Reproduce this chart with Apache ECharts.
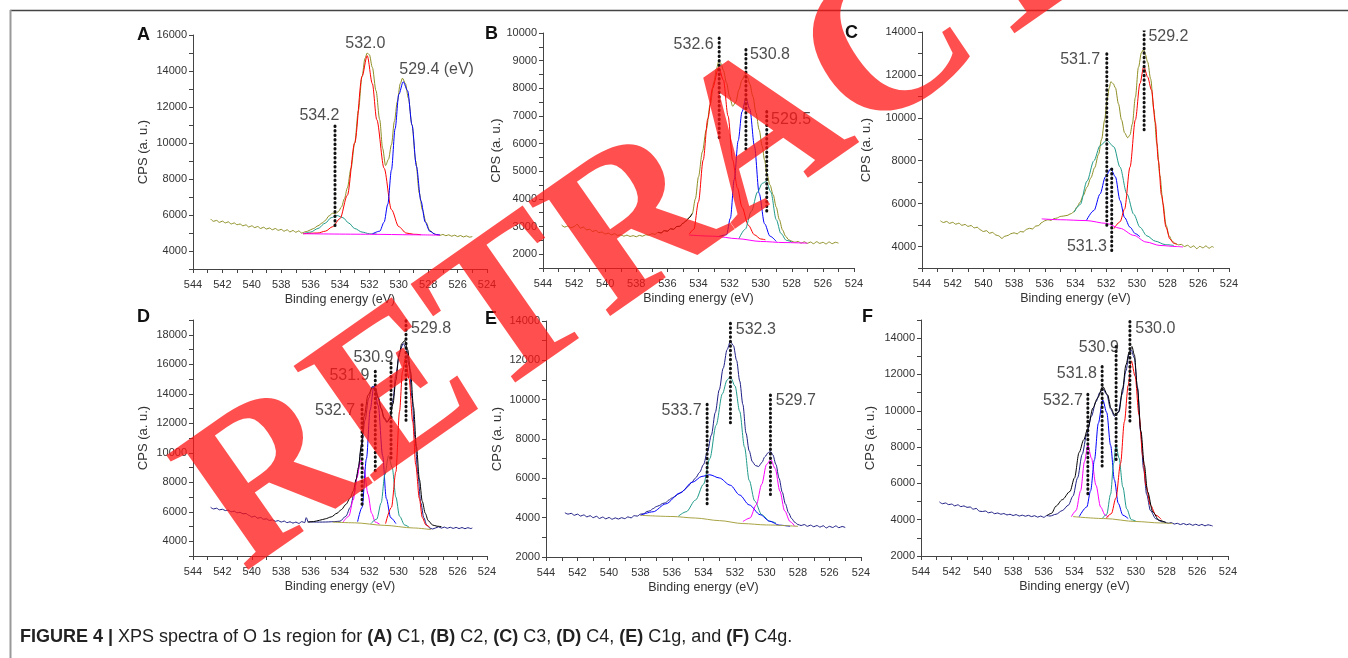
<!DOCTYPE html>
<html>
<head>
<meta charset="utf-8">
<title>Figure 4 - XPS O 1s</title>
<script src="https://cdn.jsdelivr.net/npm/echarts@6/dist/echarts.min.js"></script>
<style>
  html, body { margin: 0; padding: 0; background: #fff; }
  #chart { width: 1348px; height: 658px; }
</style>
</head>
<body>
<div id="chart"></div>
<script>
// all curves are [binding energy (eV), CPS]

// ---- A (C1) ----
const rawA = [[542.8,5780],[542.6,5650],[542.4,5700],[542.2,5590],[542,5660],[541.8,5560],[541.6,5620],[541.4,5500],[541.2,5560],[541,5460],[540.8,5500],[540.6,5400],[540.4,5450],[540.2,5330],[540,5400],[539.8,5300],[539.6,5360],[539.4,5250],[539.2,5320],[539,5220],[538.8,5280],[538.6,5180],[538.4,5250],[538.2,5150],[538,5200],[537.8,5100],[537.6,5180],[537.4,5060],[537.2,5140],[537,5040],[536.8,5120],[536.6,4990],[536.4,5060],[536.2,5100],[536,5180],[535.8,5250],[535.5,5400],[535.2,5560],[535,5700],[534.75,5950],[534.5,6100],[534.3,6080],[534.1,6200],[533.9,6450],[533.7,6900],[533.5,7500],[533.25,8600],[533,10000],[532.75,11800],[532.5,13700],[532.3,14700],[532.15,15000],[532,14900],[531.8,14200],[531.55,12900],[531.3,11300],[531.1,9700],[530.9,8750],[530.7,9100],[530.5,9900],[530.3,11200],[530.1,12300],[529.9,13300],[529.75,13600],[529.55,13300],[529.35,12500],[529.1,11000],[528.85,9000],[528.6,7200],[528.4,6300],[528.15,5600],[527.9,5150],[527.6,4960],[527.4,4900],[527.2,4870],[527,4920],[526.8,4850],[526.6,4900],[526.4,4820],[526.2,4880],[526,4800],[525.8,4860],[525.6,4780],[525.4,4840],[525.2,4770],[525,4800]];
const tealA = [[536.5,4960],[536,5050],[535.5,5250],[535,5550],[534.6,5850],[534.2,5970],[533.8,5850],[533.4,5550],[533,5250],[532.5,5050],[532,4960],[531.5,4940]];
const redA = [[536.5,4960],[535.5,5000],[535,5100],[534.5,5350],[534,5800],[533.5,7100],[533,10000],[532.5,13700],[532.15,14850],[531.8,13300],[531.5,11300],[531,8600],[530.5,6300],[530,5350],[529.5,5000],[529,4930],[528.5,4910]];
const blueA = [[531.8,4950],[531.3,5100],[531,5600],[530.75,6600],[530.5,8500],[530.25,10800],[530,12700],[529.7,13400],[529.4,12900],[529.1,11000],[528.8,8700],[528.5,6800],[528.2,5600],[527.9,5100],[527.5,4920],[527.2,4900]];
const baseA = [[536.5,4960],[532,4930],[529,4900],[527.2,4880]];
const marksA = [[534.34,10940,5330]];            // [eV, top, bottom]
const labelsA = [[536.76,11500,'534.2'],[533.64,15540,'532.0'],[529.97,14100,'529.4 (eV)']];

// ---- B (C2) ----
const rawB = [[542.8,3050],[542.6,2980],[542.4,3020],[542.2,2950],[542,3000],[541.8,3080],[541.6,2940],[541.4,2980],[541.2,2880],[541,2900],[540.8,2820],[540.6,2860],[540.4,2780],[540.2,2800],[540,2730],[539.8,2760],[539.6,2700],[539.4,2740],[539.2,2680],[539,2700],[538.8,2650],[538.6,2690],[538.4,2640],[538.2,2670],[538,2630],[537.8,2680],[537.6,2650],[537.4,2700],[537.2,2690],[537,2740],[536.8,2720],[536.6,2790],[536.4,2770],[536.2,2850],[536,2830],[535.8,2920],[535.6,2900],[535.4,3000],[535.2,3010],[535,3120],[534.8,3200],[534.6,3320],[534.4,3470],[534.2,4000],[534,4800],[533.75,5700],[533.5,6500],[533.25,7400],[533,8250],[532.85,8700],[532.7,8970],[532.55,8900],[532.4,8650],[532.2,8200],[532,7700],[531.8,7350],[531.6,7500],[531.4,7950],[531.2,8300],[531,8500],[530.85,8400],[530.7,8150],[530.5,7700],[530.3,7100],[530.1,6500],[529.9,5900],[529.75,5400],[529.6,4900],[529.4,4500],[529.2,4150],[529,3700],[528.8,3250],[528.6,2880],[528.4,2650],[528.2,2520],[528,2470],[527.8,2430],[527.6,2460],[527.4,2400],[527.2,2450],[527,2390],[526.8,2440],[526.6,2380],[526.4,2450],[526.2,2390],[526,2430],[525.8,2370],[525.6,2440],[525.4,2380],[525.2,2430],[525,2400]];
const blackB = [[536.6,2790],[536.4,2770],[536.2,2850],[536,2830],[535.8,2920],[535.6,2900],[535.4,3000],[535.2,3010],[535,3120],[534.8,3200],[534.6,3320],[534.4,3470]];
const redB = [[534.6,2720],[534.3,2900],[534,3900],[533.7,5400],[533.4,6900],[533.1,8000],[532.7,8750],[532.4,8300],[532.1,7000],[531.8,5400],[531.5,4400],[531.2,3700],[530.8,3050],[530.4,2700],[530,2550],[529.7,2520]];
const blueB = [[532.7,2640],[532.2,2700],[531.95,3300],[531.7,4700],[531.45,6100],[531.2,7150],[530.95,7640],[530.7,7250],[530.4,5900],[530.1,4200],[529.75,3100],[529.4,2650],[529,2460]];
const tealB = [[531.4,2560],[531,2900],[530.6,3550],[530.2,4250],[529.9,4560],[529.65,4630],[529.35,4250],[529,3250],[528.7,2750],[528.35,2500],[528,2440]];
const baseB = [[534.6,2690],[533,2650],[531.5,2560],[530,2460],[528.5,2420],[527,2400]];
const marksB = [[532.67,9820,6130],[530.95,9400,5770],[529.61,7160,3470]];
const labelsB = [[535.6,9580,'532.6'],[530.69,9210,'530.8'],[529.33,6880,'529.5']];

// ---- C (C3) ----
const rawC = [[542.8,5200],[542.6,5120],[542.4,5170],[542.2,5080],[542,5130],[541.8,5040],[541.6,5090],[541.4,4990],[541.2,5030],[541,4940],[540.8,4980],[540.6,4870],[540.4,4900],[540.2,4780],[540,4700],[539.8,4740],[539.6,4620],[539.4,4660],[539.2,4540],[539,4500],[538.8,4380],[538.6,4480],[538.4,4520],[538.2,4600],[538,4640],[537.8,4590],[537.6,4700],[537.4,4680],[537.2,4800],[537,4850],[536.8,4820],[536.6,4950],[536.4,4980],[536.2,5120],[536,5200],[535.8,5250],[535.6,5220],[535.4,5300],[535.2,5330],[535,5400],[534.8,5420],[534.55,5450],[534.3,5530],[534.1,5620],[533.9,5850],[533.7,6070],[533.5,6380],[533.25,6770],[533,7200],[532.75,7680],[532.5,8300],[532.3,9000],[532.1,9900],[531.95,10800],[531.8,11400],[531.7,11680],[531.55,11600],[531.4,11400],[531.2,10650],[531,9900],[530.8,9300],[530.6,9070],[530.45,9200],[530.3,9700],[530.1,10950],[529.9,12350],[529.7,13050],[529.57,13180],[529.45,12950],[529.3,12600],[529.1,11800],[528.9,10400],[528.7,8800],[528.5,7300],[528.3,6000],[528.1,5000],[527.9,4500],[527.7,4250],[527.5,4150],[527.3,4080],[527.1,4100],[526.9,4000],[526.7,4060],[526.5,3960],[526.3,4030],[526.1,3900],[525.9,4010],[525.7,3940],[525.5,4030],[525.3,3920],[525.1,4000],[525,3960]];
const tealC = [[534.1,5600],[533.7,5950],[533.25,7050],[532.8,8000],[532.4,8700],[531.96,8950],[531.5,8650],[531.1,7700],[530.65,6450],[530.2,5500],[529.8,4900],[529.35,4500],[528.8,4250],[528.15,4090],[527.6,4050]];
const blueC = [[533.3,5200],[532.8,5680],[532.4,6450],[532.05,7250],[531.7,7620],[531.4,7250],[531.1,6150],[530.8,5350],[530.45,4900],[530.1,4600],[529.8,4450]];
const redC = [[531.5,4830],[531.1,5150],[530.8,5750],[530.45,7700],[530.1,9900],[529.8,11600],[529.55,12400],[529.3,11900],[529.05,11300],[528.8,9800],[528.6,8000],[528.4,6400],[528.1,4900],[527.85,4350],[527.6,4150],[527.4,4100]];
const baseC = [[536.2,5290],[535,5250],[533.3,5210],[532,5080],[531.1,4850],[530.2,4520],[529.4,4210],[528.5,4050],[527.4,4000],[527,3980]];
const marksC = [[531.96,12990,4900],[529.53,14080,9330],[531.64,7620,3740]];
const labelsC = [[535.0,12710,'531.7'],[529.25,13770,'529.2'],[534.56,4000,'531.3']];

// ---- D (C4) ----
const rawD = [[542.8,6300],[542.6,6190],[542.4,6240],[542.2,6130],[542,6170],[541.8,6080],[541.6,6110],[541.4,6000],[541.2,6040],[541,5930],[540.8,5960],[540.6,5860],[540.4,5880],[540.2,5760],[540,5640],[539.8,5700],[539.6,5560],[539.4,5610],[539.2,5490],[539,5520],[538.8,5410],[538.6,5450],[538.4,5350],[538.2,5400],[538,5300],[537.8,5370],[537.6,5260],[537.4,5320],[537.2,5230],[537,5300],[536.8,5210],[536.6,5330],[536.4,5260],[536.3,5600],[536.15,5300],[536,5310],[535.6,5300],[535.2,5300],[534.8,5310],[534.4,5330],[534,5360],[533.6,5700],[533.3,6300],[533.05,7200],[532.8,8600],[532.55,10300],[532.3,12200],[532.05,13700],[531.8,14500],[531.6,14400],[531.4,13800],[531.2,13000],[531,12300],[530.8,12050],[530.6,12400],[530.4,13600],[530.2,15300],[529.95,16800],[529.7,17400],[529.5,17100],[529.3,15900],[529.1,13700],[528.9,11000],[528.7,8500],[528.5,6600],[528.3,5600],[528.1,5100],[527.9,4900],[527.7,4830],[527.5,4900],[527.3,4980],[527.1,4890],[526.9,4960],[526.7,4880],[526.5,4950],[526.3,4870],[526.1,4940],[525.9,4860],[525.7,4930],[525.5,4850],[525.3,4920],[525.1,4860],[525,4900]];
const blackD = [[536.2,5300],[535.8,5330],[535.4,5420],[535,5520],[534.6,5650],[534.2,5900],[533.9,6150],[533.6,6500],[533.3,6950],[533.1,7400],[532.9,8200],[532.75,9000],[532.55,10500],[532.35,12500],[532.1,13900],[531.8,14400],[531.6,14250],[531.4,13700],[531.2,13000],[531,12400],[530.8,12100],[530.6,12300],[530.4,13300],[530.2,14900],[530,16500],[529.8,17400],[529.6,17600],[529.4,17000],[529.2,15500],[529,13100],[528.8,10400],[528.6,8200],[528.4,6700],[528.2,5900],[528,5400],[527.7,5100],[527.4,5020],[527.1,4990]];
const magentaD = [[533.8,5280],[533.4,5700],[533.1,6800],[532.85,8300],[532.6,9500],[532.35,8800],[532.1,7200],[531.85,5900],[531.6,5300],[531.3,5150]];
const blueD = [[532.8,5330],[532.5,6300],[532.2,9600],[531.95,12900],[531.7,14500],[531.4,13200],[531.1,9800],[530.85,6900],[530.55,5600],[530.2,5200]];
const tealD = [[531.9,5200],[531.5,5500],[531.2,6600],[530.95,8500],[530.7,9800],[530.45,9000],[530.2,7000],[529.95,5700],[529.6,5100],[529.3,4950]];
const redD = [[530.9,5200],[530.5,6300],[530.2,8700],[529.95,12800],[529.75,15500],[529.55,16400],[529.3,15000],[529.05,12100],[528.85,9200],[528.6,6900],[528.4,5600],[528.15,5100],[527.9,4950]];
const baseD = [[534.5,5300],[533,5250],[531,5080],[529,4900],[527.8,4790]];
const marksD = [[529.51,18950,12020],[530.53,16080,9420],[531.6,15520,8750],[532.5,13260,6490]];
const labelsD = [[529.17,18400,'529.8'],[533.09,16470,'530.9'],[534.72,15250,'531.9'],[535.7,12850,'532.7']];

// ---- E (C1g) ----
const rawE = [[542.8,4250],[542.6,4180],[542.4,4220],[542.2,4120],[542,4180],[541.8,4080],[541.6,4140],[541.4,4040],[541.2,4100],[541,4000],[540.8,4070],[540.6,3960],[540.4,4030],[540.2,3940],[540,4010],[539.8,3920],[539.6,3990],[539.4,3930],[539.2,4000],[539,3950],[538.8,4040],[538.6,3990],[538.4,4100],[538.2,4080],[538,4180],[537.8,4200],[537.6,4310],[537.4,4350],[537.2,4460],[537,4560],[536.8,4620],[536.6,4720],[536.4,4760],[536.2,4900],[536,5000],[535.8,5080],[535.6,5200],[535.4,5300],[535.2,5420],[535,5580],[534.75,5800],[534.5,6020],[534.25,6300],[534,6700],[533.75,7350],[533.5,8200],[533.25,9350],[533,10500],[532.75,11600],[532.5,12550],[532.3,12950],[532.1,12750],[531.9,12000],[531.7,10950],[531.5,9750],[531.3,8300],[531.1,7400],[530.9,6850],[530.7,6650],[530.5,6600],[530.3,6800],[530.1,7100],[529.9,7300],[529.75,7380],[529.6,7200],[529.4,6700],[529.2,6000],[529,5300],[528.8,4700],[528.6,4250],[528.4,3950],[528.2,3760],[528,3650],[527.8,3600],[527.6,3650],[527.4,3560],[527.2,3620],[527,3540],[526.8,3600],[526.6,3520],[526.4,3590],[526.2,3480],[526,3560],[525.8,3500],[525.6,3580],[525.4,3490],[525.2,3550],[525,3500]];
const tealE = [[535.6,4070],[535.1,4300],[534.5,4900],[534,5700],[533.6,7000],[533.2,8700],[532.8,10300],[532.5,11000],[532.3,11170],[532,10700],[531.7,9400],[531.4,7600],[531.1,5900],[530.75,4850],[530.3,4150],[529.8,3820],[529.4,3730]];
const blueE = [[538,4120],[537.2,4300],[536.4,4700],[535.5,5250],[534.7,5800],[534.1,6100],[533.6,6180],[533,6020],[532.3,5650],[531.7,5150],[531.1,4650],[530.4,4150],[529.8,3820],[529.2,3620],[528.5,3560]];
const magentaE = [[531.5,3800],[531.05,3980],[530.65,4650],[530.3,5700],[530,6700],[529.73,6950],[529.45,6500],[529.15,5350],[528.85,4350],[528.5,3800],[528.2,3560]];
const baseE = [[538,4120],[536,4060],[534.5,3980],[533,3850],[531.5,3700],[530,3630],[528,3560]];
const marksE = [[532.29,13880,8810],[529.75,10240,5030],[533.77,9770,4660]];
const labelsE = [[531.95,13540,'532.3'],[529.41,9940,'529.7'],[536.66,9430,'533.7']];

// ---- F (C4g) ----
const rawF = [[542.8,4980],[542.6,4880],[542.4,4920],[542.2,4830],[542,4860],[541.8,4760],[541.6,4820],[541.4,4720],[541.2,4760],[541,4680],[540.8,4700],[540.6,4580],[540.4,4620],[540.2,4470],[540,4450],[539.8,4480],[539.6,4380],[539.4,4420],[539.2,4330],[539,4370],[538.8,4300],[538.6,4340],[538.4,4260],[538.2,4300],[538,4230],[537.8,4280],[537.6,4200],[537.4,4250],[537.2,4190],[537,4240],[536.8,4170],[536.6,4220],[536.4,4140],[536.2,4200],[536,4130],[535.8,4230],[535.6,4200],[535.2,4300],[534.8,4500],[534.4,4800],[534.1,5300],[533.8,6300],[533.5,7600],[533.2,8700],[532.9,9700],[532.6,10500],[532.35,11000],[532.15,11200],[531.9,10900],[531.65,10100],[531.4,9700],[531.15,9900],[530.9,10900],[530.65,12200],[530.45,13100],[530.3,13350],[530.1,12900],[529.9,11300],[529.7,8900],[529.5,6800],[529.3,5400],[529.05,4500],[528.7,4050],[528.3,3880],[528.1,3870],[527.9,3800],[527.7,3840],[527.5,3760],[527.3,3800],[527.1,3730],[526.9,3790],[526.7,3720],[526.5,3770],[526.3,3690],[526.1,3750],[525.9,3680],[525.7,3740],[525.5,3660],[525.3,3720],[525.1,3680],[525,3650]];
const blackF = [[535.8,4230],[535.5,4350],[535.2,4750],[534.8,5100],[534.3,5550],[534,6300],[533.7,7700],[533.4,8400],[533.13,9030],[532.8,10150],[532.5,10700],[532.16,11330],[531.84,10870],[531.62,10140],[531.4,9770],[531.1,9950],[530.86,11240],[530.65,12530],[530.43,13260],[530.26,13540],[530.1,13080],[529.9,11240],[529.67,8850],[529.45,7010],[529.24,5540],[528.9,4430],[528.5,3970],[528.05,3840]];
const magentaF = [[534.2,4170],[533.9,4500],[533.6,5600],[533.35,7200],[533.13,8100],[532.9,7400],[532.6,5900],[532.3,4700],[532,4250],[531.8,4150]];
const blueF = [[533.7,4160],[533.2,4700],[532.95,5600],[532.7,7300],[532.45,9300],[532.16,10600],[531.9,9900],[531.65,8100],[531.4,6200],[531.15,4900],[530.85,4250],[530.5,4060]];
const tealF = [[532.2,4050],[531.9,4300],[531.65,5400],[531.45,7100],[531.3,8100],[531.1,7400],[530.85,5800],[530.6,4600],[530.3,4000],[530,3920]];
const redF = [[531.95,4060],[531.6,4330],[531.3,5200],[531,7100],[530.75,9400],[530.5,11400],[530.3,12750],[530.05,11900],[529.8,9800],[529.55,7500],[529.35,5900],[529.05,4800],[528.7,4250],[528.35,4020]];
const baseF = [[534.1,4170],[532,4060],[530,3900],[528.4,3820],[527.6,3790]];
const marksF = [[530.39,14920,9400],[531.29,13540,7280],[532.2,12440,6820],[533.13,10910,5350]];
const labelsF = [[530.04,14520,'530.0'],[533.72,13480,'530.9'],[535.15,12070,'531.8'],[536.06,10540,'532.7']];

const OLIVE = '#8e8e24';
const NAVY = '#1e1e86';
const RED = '#ff0000';
const BLUE = '#0000ff';
const TEAL = '#1f9a8a';
const MAGENTA = '#ff00ff';
const KHAKI = '#a8a445';
const FONT = '"Liberation Sans", Arial, sans-serif';

const panels = [
  { letter: 'A', at: [137, 35], grid: { left: 193, top: 35, width: 294, height: 234 },
    yMin: 3000, yMax: 16000, yStep: 1000, labelStep: 2000, nameGap: 43,
    raw: rawA, rawColor: OLIVE, black: null,
    parts: [[tealA, TEAL], [redA, RED], [blueA, BLUE], [baseA, MAGENTA]],
    marks: marksA, labels: labelsA },
  { letter: 'B', at: [485, 34], grid: { left: 543, top: 33, width: 311, height: 235 },
    yMin: 1500, yMax: 10000, yStep: 500, labelStep: 1000, nameGap: 39,
    raw: rawB, rawColor: OLIVE, black: blackB,
    parts: [[redB, RED], [blueB, BLUE], [tealB, TEAL], [baseB, MAGENTA]],
    marks: marksB, labels: labelsB },
  { letter: 'C', at: [845, 33], grid: { left: 922, top: 32, width: 307, height: 236 },
    yMin: 3000, yMax: 14000, yStep: 1000, labelStep: 2000, nameGap: 49,
    raw: rawC, rawColor: OLIVE, black: null,
    parts: [[tealC, TEAL], [blueC, BLUE], [redC, RED], [baseC, MAGENTA]],
    marks: marksC, labels: labelsC },
  { letter: 'D', at: [137, 317], grid: { left: 193, top: 320, width: 294, height: 236 },
    yMin: 3000, yMax: 19000, yStep: 1000, labelStep: 2000, nameGap: 43,
    raw: rawD, rawColor: NAVY, black: blackD,
    parts: [[magentaD, MAGENTA], [blueD, BLUE], [tealD, TEAL], [redD, RED], [baseD, KHAKI]],
    marks: marksD, labels: labelsD },
  { letter: 'E', at: [485, 319], grid: { left: 546, top: 321, width: 315, height: 236 },
    yMin: 2000, yMax: 14000, yStep: 1000, labelStep: 2000, nameGap: 42,
    raw: rawE, rawColor: NAVY, black: null,
    parts: [[tealE, TEAL], [blueE, BLUE], [magentaE, MAGENTA], [baseE, KHAKI]],
    marks: marksE, labels: labelsE },
  { letter: 'F', at: [862, 317], grid: { left: 921, top: 320, width: 307, height: 236 },
    yMin: 2000, yMax: 15000, yStep: 1000, labelStep: 2000, nameGap: 44,
    raw: rawF, rawColor: NAVY, black: blackF,
    parts: [[magentaF, MAGENTA], [blueF, BLUE], [tealF, TEAL], [redF, RED], [baseF, KHAKI]],
    marks: marksF, labels: labelsF }
];

const grids = [], xAxes = [], yAxes = [], series = [], graphics = [];

panels.forEach((p, i) => {
  grids.push(p.grid);
  xAxes.push({
    gridIndex: i, type: 'value', min: 524, max: 544, interval: 1, inverse: true,
    name: 'Binding energy (eV)', nameLocation: 'middle', nameGap: 24,
    nameTextStyle: { fontFamily: FONT, fontSize: 12.5, color: '#333' },
    axisLine: { onZero: false, lineStyle: { color: '#444', width: 1 } },
    axisTick: { length: 4, lineStyle: { color: '#444' } },
    axisLabel: { margin: 10, fontFamily: FONT, fontSize: 11, color: '#333',
      formatter: v => (v % 2 === 0 ? String(v) : '') },
    splitLine: { show: false }
  });
  yAxes.push({
    gridIndex: i, type: 'value', min: p.yMin, max: p.yMax, interval: p.yStep,
    name: 'CPS (a. u.)', nameLocation: 'middle', nameGap: p.nameGap,
    nameTextStyle: { fontFamily: FONT, fontSize: 13, color: '#333' },
    axisLine: { show: true, onZero: false, lineStyle: { color: '#444', width: 1 } },
    axisTick: { show: true, length: 4, lineStyle: { color: '#444' } },
    axisLabel: { margin: 6, fontFamily: FONT, fontSize: 11, color: '#333',
      formatter: v => (v % p.labelStep === 0 ? String(v) : '') },
    splitLine: { show: false }
  });

  const line = (data, color, z) => ({
    type: 'line', xAxisIndex: i, yAxisIndex: i, data,
    showSymbol: false, smooth: 0.3, smoothMonotone: 'x',
    lineStyle: { color, width: 1 }, z, silent: true
  });

  series.push(line(p.raw, p.rawColor, 2));
  p.parts.forEach(([d, c]) => series.push(line(d, c, 3)));
  if (p.black) series.push(line(p.black, '#000', 4));

  // dotted peak markers
  p.marks.forEach(([e, top, bottom]) => {
    series.push({
      type: 'line', xAxisIndex: i, yAxisIndex: i,
      data: [[e, top], [e, bottom]], showSymbol: false, silent: true, z: 5,
      lineStyle: { color: '#111', width: 3, type: [0.5, 4], cap: 'round' }
    });
  });

  series.push({
    type: 'scatter', xAxisIndex: i, yAxisIndex: i, data: p.labels,
    encode: { x: 0, y: 1 }, symbolSize: 0, silent: true, z: 6,
    label: { show: true, position: 'right', distance: 0,
      formatter: d => d.data[2], fontFamily: FONT, fontSize: 16, color: '#222' }
  });

  graphics.push({
    type: 'text', x: p.at[0], y: p.at[1], z: 10,
    style: { text: p.letter, font: 'bold 18px ' + FONT, fill: '#111',
      align: 'left', verticalAlign: 'middle' }
  });
});

// frame
graphics.push({ type: 'line', z: 10, shape: { x1: 10, y1: 10.5, x2: 1348, y2: 10.5 },
  style: { stroke: '#444', lineWidth: 1.5 } });
graphics.push({ type: 'line', z: 10, shape: { x1: 10.5, y1: 10, x2: 10.5, y2: 658 },
  style: { stroke: '#999', lineWidth: 2 } });

// caption
graphics.push({
  type: 'text', x: 20, y: 637, z: 10,
  style: {
    text: '{b|FIGURE 4 |} XPS spectra of O 1s region for {b|(A)} C1, {b|(B)} C2, {b|(C)} C3, {b|(D)} C4, {b|(E)} C1g, and {b|(F)} C4g.',
    font: '18px ' + FONT, fill: '#222', verticalAlign: 'middle',
    rich: { b: { fontWeight: 'bold', fontSize: 18, fontFamily: FONT, fill: '#222' } }
  }
});

// retraction stamp across the figure
graphics.push({
  type: 'text', x: 765, y: 140, rotation: 35 * Math.PI / 180, z: 100,
  style: {
    text: 'RETRACTED', font: 'bold 215px "Liberation Serif", "Times New Roman", serif',
    fill: 'rgba(255, 20, 20, 0.75)', align: 'center', verticalAlign: 'middle'
  }
});

const chart = echarts.init(document.getElementById('chart'), null, { renderer: 'canvas' });
chart.setOption({
  animation: false,
  backgroundColor: '#fff',
  grid: grids,
  xAxis: xAxes,
  yAxis: yAxes,
  series,
  graphic: { elements: graphics }
});
</script>
</body>
</html>
